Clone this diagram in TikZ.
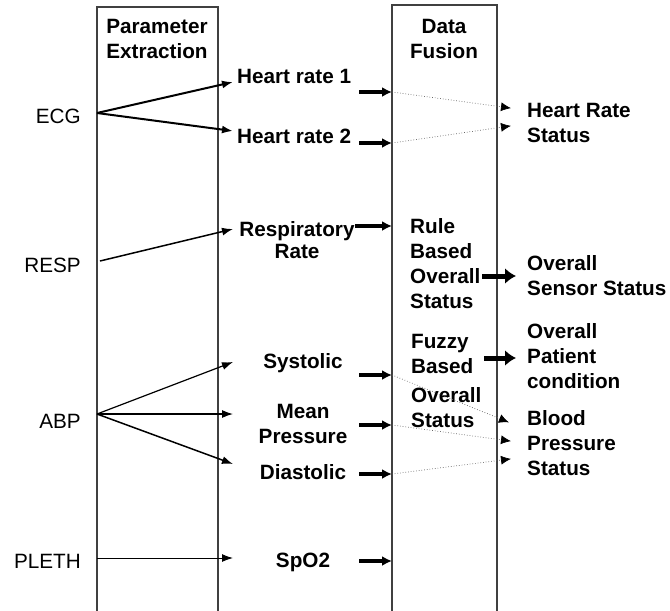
\documentclass[tikz,border=0pt]{standalone}
\usepackage{fontspec}
\setmainfont{Liberation Sans}
\usetikzlibrary{arrows.meta,positioning}

\begin{document}
\begin{tikzpicture}[x=1pt,y=-1pt,
every node/.style={inner sep=0pt,font=\fontsize{20.7}{25}\selectfont},
sensor/.style={anchor=base east},
param/.style={font=\fontsize{20.7}{25}\selectfont\bfseries,align=center,anchor=base},
result/.style={font=\fontsize{20.7}{25}\selectfont\bfseries,align=left,anchor=base west},
box/.style={black!75,line width=1.2pt},
feed/.style={black,-{Latex[length=11pt,width=8pt]}},
push/.style={black,line width=3.2pt,-{Latex[length=10pt,width=10pt]}},
fuse/.style={black!60,line width=0.7pt,dotted,-{Latex[length=10pt,width=9pt,color=black,fill=black,sep=-1pt]}},
big/.style={black,line width=5pt,-{Latex[length=11pt,width=16pt]}}]
\useasboundingbox (0,0) rectangle (670,611);

% the two stages
\draw[box] (97,611) |- (218,7) -- (218,611);
\draw[box] (392,611) |- (497,5) -- (497,611);
\node[param] (pe) at (157,58) {Parameter\\Extraction};
\node[param] (df) at (444,58) {Data\\Fusion};

% sensors
\node[sensor] (ecg) at (81,123) {ECG};
\node[sensor] (resp) at (81,272) {RESP};
\node[sensor] (abp) at (81,428) {ABP};
\node[sensor] (pleth) at (81,568) {PLETH};

% parameters
\node[param,anchor=base west] (hr1) at (237,83) {Heart rate 1};
\node[param,anchor=base west] (hr2) at (237,143) {Heart rate 2};
\node[param] (rr) at (297,258) {Respiratory\\[-3pt]Rate};
\node[param] (sys) at (303,368) {Systolic};
\node[param] (mean) at (303,443) {Mean\\Pressure};
\node[param] (dia) at (303,479) {Diastolic};
\node[param] (spo) at (303,567) {SpO2};

% fusion
\node[result] (rule) at (410,308) {Rule\\Based\\Overall\\Status};
\node[result] (fuzzy) at (411,427) {Fuzzy\\Based\\[4pt]Overall\\Status};

% outputs
\node[result] (hrs) at (527,142) {Heart Rate\\Status};
\node[result] (oss) at (527,295) {Overall\\Sensor Status};
\node[result] (opc) at (527,388) {Overall\\Patient\\condition};
\node[result] (bps) at (527,475) {Blood\\Pressure\\Status};

% connector ends
\coordinate (ecgx) at (97,113);
\coordinate (respx) at (100,261);
\coordinate (abpx) at (97,414);
\coordinate (plethx) at (97,558);
\coordinate (hr1t) at (233,82);
\coordinate (hr2t) at (233,131);
\coordinate (rrt) at (233,229);
\coordinate (syst) at (233,362);
\coordinate (meant) at (233,414);
\coordinate (diat) at (233,464);
\coordinate (spot) at (233,558);

\coordinate (hr1o) at (359,92);   \coordinate (hr1i) at (392,92);
\coordinate (hr2o) at (359,143);  \coordinate (hr2i) at (392,143);
\coordinate (rro) at (355,226);   \coordinate (rri) at (392,226);
\coordinate (syso) at (359,375);  \coordinate (sysi) at (392,375);
\coordinate (meano) at (359,425); \coordinate (meani) at (392,425);
\coordinate (diao) at (359,474);  \coordinate (diai) at (392,474);
\coordinate (spoo) at (359,561);  \coordinate (spoi) at (392,561);

\coordinate (hrsa) at (510,108);  \coordinate (hrsb) at (510,126);
\coordinate (bpsa) at (508,422);  \coordinate (bpsb) at (510,441);
\coordinate (bpsc) at (510,459);
\coordinate (ruleo) at (482,276); \coordinate (osst) at (516,276);
\coordinate (fuzzyo) at (484,358); \coordinate (opct) at (516,358);

% extraction
\draw[feed,line width=2pt] (ecgx) -- (hr1t);
\draw[feed,line width=2pt] (ecgx) -- (hr2t);
\draw[feed,line width=1.5pt] (respx) -- (rrt);
\draw[feed,line width=1.2pt] (abpx) -- (syst);
\draw[feed,line width=1.2pt] (abpx) -- (meant);
\draw[feed,line width=1.5pt] (abpx) -- (diat);
\draw[feed,line width=1pt] (plethx) -- (spot);

% into fusion
\draw[push] (hr1o) -- (hr1i);
\draw[push] (hr2o) -- (hr2i);
\draw[push] (rro) -- (rri);
\draw[push] (syso) -- (sysi);
\draw[push] (meano) -- (meani);
\draw[push] (diao) -- (diai);
\draw[push] (spoo) -- (spoi);

% fused
\draw[fuse] (hr1i) -- (hrsa);
\draw[fuse] (hr2i) -- (hrsb);
\draw[fuse] (sysi) -- (bpsa);
\draw[fuse] (meani) -- (bpsb);
\draw[fuse] (diai) -- (bpsc);
\draw[big] (ruleo) -- (osst);
\draw[big] (fuzzyo) -- (opct);
\end{tikzpicture}
\end{document}
